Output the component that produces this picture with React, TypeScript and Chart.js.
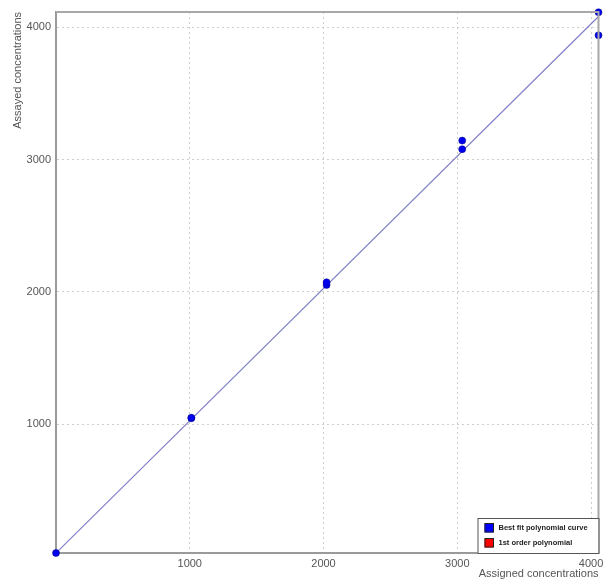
import React, { useEffect, useRef } from "react";
import { Chart, registerables } from "chart.js";

Chart.register(...registerables);

const assignedX = [0, 1012, 1012, 2023, 2023, 3037, 3037, 4056, 4056];
const assayedY = [27, 1046, 1050, 2053, 2073, 3079, 3144, 3940, 4114];
const fitX = [0, 4056];
const fitY = [27, 4082];
const xTicks = [1000, 2000, 3000, 4000];
const yTicks = [1000, 2000, 3000, 4000];
const legendLabels = ["Best fit polynomial curve", "1st order polynomial"];
const legendColors = ["#0000ff", "#ff0000"];
const xTitle = "Assigned concentrations";
const yTitle = "Assayed concentrations";

const FONT = "'Liberation Sans', Arial, sans-serif";

const framePlugin = {
  id: "frame",
  afterDatasetsDraw(chart: any) {
    const { ctx, chartArea } = chart;
    const { left, right, top, bottom } = chartArea;
    ctx.save();
    ctx.strokeStyle = "#a8a8a8";
    ctx.lineWidth = 2;
    ctx.beginPath();
    ctx.moveTo(left, top);
    ctx.lineTo(right, top);
    ctx.lineTo(right, bottom);
    ctx.stroke();
    ctx.restore();
  },
  afterDraw(chart: any) {
    const { ctx, chartArea } = chart;
    const w = 121;
    const h = 35;
    const x0 = chartArea.right - w;
    const y0 = chartArea.bottom - h;
    ctx.save();
    ctx.fillStyle = "#ffffff";
    ctx.fillRect(x0, y0, w, h);
    ctx.strokeStyle = "#555555";
    ctx.lineWidth = 1;
    ctx.strokeRect(x0 + 0.5, y0 + 0.5, w, h);
    ctx.font = `bold 7.5px ${FONT}`;
    ctx.textBaseline = "middle";
    legendLabels.forEach((lab, i) => {
      const cy = y0 + 10 + i * 15;
      ctx.fillStyle = legendColors[i];
      ctx.fillRect(x0 + 7, cy - 4.5, 9, 9);
      ctx.strokeStyle = "#222";
      ctx.strokeRect(x0 + 7.5, cy - 4.5, 8.5, 8.5);
      ctx.fillStyle = "#222";
      ctx.fillText(lab, x0 + 21, cy);
    });
    ctx.restore();
  },
};

export default function App() {
  const ref = useRef<HTMLCanvasElement>(null);
  useEffect(() => {
    document.body.style.margin = "0";
    const ctx = ref.current!.getContext("2d")!;
    const chart = new Chart(ctx, {
      type: "scatter",
      data: {
        datasets: [
          {
            label: legendLabels[0],
            data: assignedX.map((x, i) => ({ x, y: assayedY[i] })),
            backgroundColor: "#0000ee",
            borderColor: "#000088",
            borderWidth: 0.5,
            pointRadius: 3.5,
            clip: false as any,
            order: 0,
          },
          {
            type: "line" as any,
            label: legendLabels[1],
            data: fitX.map((x, i) => ({ x, y: fitY[i] })),
            borderColor: "#8080c8",
            borderWidth: 1.2,
            pointRadius: 0,
            showLine: true,
            fill: false,
            order: 1,
          },
        ],
      },
      options: {
        animation: false,
        responsive: false,
        layout: { padding: { top: 12, right: 4, left: 0, bottom: 0 } },
        plugins: { legend: { display: false }, tooltip: { enabled: false } },
        scales: {
          x: {
            type: "linear",
            min: 0,
            max: 4056,
            afterBuildTicks: (s: any) => {
              s.ticks = xTicks.map((v) => ({ value: v }));
            },
            afterFit: (s: any) => {
              s.height = 28;
              s.paddingRight = 0;
              s.paddingLeft = 0;
            },
            ticks: {
              color: "#555",
              font: { family: FONT, size: 11 },
              padding: 4,
              maxRotation: 0,
              callback: (v: any) => String(v),
            },
            grid: {
              color: "#cfcfcf",
              drawTicks: false,
            },
            border: { color: "#9a9a9a", width: 2, dash: [2, 3] } as any,
            title: {
              display: true,
              text: xTitle,
              align: "end",
              color: "#555",
              font: { family: FONT, size: 11 },
              padding: { top: 0, bottom: 0 },
            },
          },
          y: {
            type: "linear",
            min: 27,
            max: 4116,
            afterBuildTicks: (s: any) => {
              s.ticks = yTicks.map((v) => ({ value: v }));
            },
            afterFit: (s: any) => {
              s.width = 56;
              s.paddingTop = 0;
              s.paddingBottom = 0;
            },
            ticks: {
              color: "#555",
              font: { family: FONT, size: 11 },
              padding: 5,
              callback: (v: any) => String(v),
            },
            grid: {
              color: "#cfcfcf",
              drawTicks: false,
            },
            border: { color: "#9a9a9a", width: 2, dash: [2, 3] } as any,
            title: {
              display: true,
              text: yTitle,
              align: "end",
              color: "#555",
              font: { family: FONT, size: 11 },
              padding: { top: 11, bottom: 0 },
            },
          },
        },
      },
      plugins: [framePlugin],
    });
    return () => chart.destroy();
  }, []);
  return (
    <div style={{ width: 603, height: 581 }}>
      <canvas ref={ref} width={603} height={581} />
    </div>
  );
}
